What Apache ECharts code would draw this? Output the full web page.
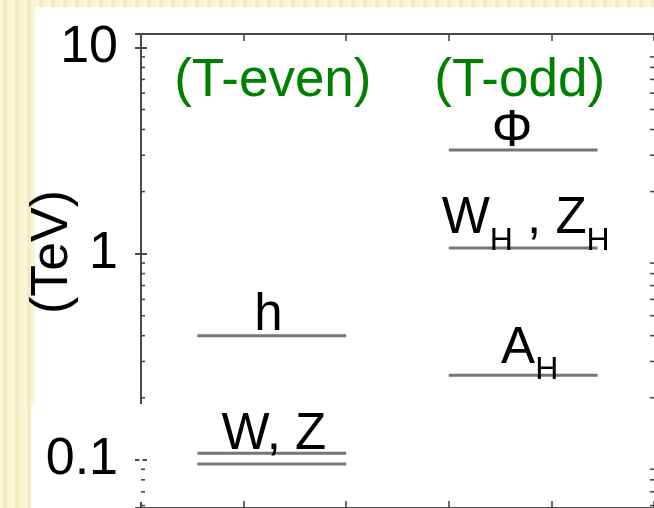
<!DOCTYPE html>
<html>
<head>
<meta charset="utf-8">
<script src="https://cdn.jsdelivr.net/npm/echarts@6/dist/echarts.min.js"></script>
<style>
  html, body { margin: 0; padding: 0; }
  body {
    width: 654px; height: 508px; overflow: hidden; position: relative;
    background-color: #f6f2cc;
    background-image: repeating-linear-gradient(90deg,
      rgba(255,255,238,0.45) 0px, rgba(255,255,238,0.45) 3px,
      rgba(226,218,168,0.25) 3px, rgba(226,218,168,0.25) 7px,
      rgba(255,252,226,0.35) 7px, rgba(255,252,226,0.35) 12px);
  }
  #panel  { position: absolute; left: 35px; top: 7px;   width: 619px; height: 501px; background: #fff; }
  #panel2 { position: absolute; left: 31px; top: 405px; width: 623px; height: 103px; background: #fff; }
  #chart  { position: absolute; left: 0; top: 0; width: 654px; height: 508px; }
</style>
</head>
<body>
<div id="panel"></div>
<div id="panel2"></div>
<div id="chart"></div>
<script>
// Mass spectrum of the two sectors, in TeV (log scale).
const groupTitles = ['(T-even)', '(T-odd)'];
const evenSpan = [0.55, 2.0];          // horizontal extent of the T-even levels
const oddSpan = [3.0, 4.45];           // horizontal extent of the T-odd levels
const evenMasses = [0.0954, 0.1075, 0.40];
const evenLabels = ['', 'W, Z', 'h'];
const oddMasses = [0.257, 1.065, 3.18];
const oddLabels = ['A_H', 'W_H , Z_H', 'Φ'];

// Axes
const xRange = [0, 5];
const yRange = [0.0584, 11.62];
const yTickValues = [0.1, 1, 10];
const yTickLabels = ['0.1', '1', '10'];
const yMinorTicks = [0.06, 0.07, 0.08, 0.09, 0.2, 0.3, 0.4, 0.5, 0.6, 0.7, 0.8, 0.9,
                     2, 3, 4, 5, 6, 7, 8, 9];

// Styling
const FONT = '"Liberation Sans", Arial, Helvetica, sans-serif';
const LABEL_SIZE = 51, SUB_SIZE = 32, SUB_DROP = 15;
const TITLE_SIZE = 53;
const MID_TO_BASE = 0.3465;            // distance from the 'middle' line to the baseline, in em
const levelColor = '#767676';
const frameColor = '#4a4a4a';
const titleColor = '#008000';
// label placement relative to the level line: [dx from segment centre, baseline dy]
const labelPlacement = {
  'W, Z': [2, -1], 'h': [-3.5, -2], 'Φ': [-11, 0],
  'W_H , Z_H': [2.5, -11], 'A_H': [6.5, -9]
};

const measureCtx = document.createElement('canvas').getContext('2d');
function textWidth(str, size) {
  measureCtx.font = size + 'px ' + FONT;
  return measureCtx.measureText(str).width;
}
// "W_H" -> [['W', false], ['H', true]]
function splitSubscripts(str) {
  const parts = [];
  let buf = '';
  for (let i = 0; i < str.length; i++) {
    if (str[i] === '_' && i + 1 < str.length) {
      if (buf) parts.push([buf, false]);
      buf = '';
      parts.push([str[i + 1], true]);
      i++;
    } else buf += str[i];
  }
  if (buf) parts.push([buf, false]);
  return parts;
}

const levelLabels = evenLabels.concat(oddLabels);
const levelRows = [];
evenMasses.forEach((m, i) => levelRows.push([evenSpan[0], evenSpan[1], m, i]));
oddMasses.forEach((m, i) => levelRows.push([oddSpan[0], oddSpan[1], m, evenLabels.length + i]));

function renderLevel(params, api) {
  const x0 = api.value(0), x1 = api.value(1), m = api.value(2), k = api.value(3);
  const p0 = api.coord([x0, m]), p1 = api.coord([x1, m]);
  const children = [{
    type: 'line',
    shape: { x1: p0[0], y1: p0[1], x2: p1[0], y2: p1[1] },
    style: { stroke: levelColor, lineWidth: 3 }
  }];
  const label = levelLabels[k];
  if (label) {
    const place = labelPlacement[label] || [0, 0];
    const parts = splitSubscripts(label);
    const total = parts.reduce((s, p) => s + textWidth(p[0], p[1] ? SUB_SIZE : LABEL_SIZE), 0);
    let x = (p0[0] + p1[0]) / 2 + place[0] - total / 2;
    const base = p0[1] + place[1];
    parts.forEach(([t, sub]) => {
      const size = sub ? SUB_SIZE : LABEL_SIZE;
      const b = sub ? base + SUB_DROP : base;
      children.push({
        type: 'text',
        style: {
          text: t, x: x, y: b - MID_TO_BASE * size,
          font: size + 'px ' + FONT, fill: '#000',
          align: 'left', verticalAlign: 'middle'
        }
      });
      x += textWidth(t, size);
    });
  }
  return { type: 'group', children: children };
}

function renderMinorTick(params, api) {
  const m = api.value(1);
  const pl = api.coord([xRange[0], m]);
  const pr = api.coord([xRange[1], m]);
  const st = { stroke: frameColor, lineWidth: 1.6 };
  return {
    type: 'group',
    children: [
      { type: 'line', shape: { x1: pl[0], y1: pl[1], x2: pl[0] + 4, y2: pl[1] }, style: st },
      { type: 'line', shape: { x1: pr[0], y1: pr[1], x2: pr[0] - 4, y2: pr[1] }, style: st }
    ]
  };
}

const chart = echarts.init(document.getElementById('chart'), null, { renderer: 'canvas' });

const xAxisBase = {
  type: 'value', min: xRange[0], max: xRange[1], interval: 1,
  axisLabel: { show: false },
  splitLine: { show: false },
  axisTick: { inside: true, length: 7, lineStyle: { color: frameColor, width: 1.6 } },
  axisLine: { show: true, lineStyle: { color: frameColor, width: 2 } }
};
const yAxisBase = {
  type: 'log', min: yRange[0], max: yRange[1], logBase: 10,
  splitLine: { show: false },
  axisTick: { inside: true, length: 6, lineStyle: { color: frameColor, width: 2 } }
};

chart.setOption({
  animation: false,
  backgroundColor: 'transparent',
  grid: { left: 141, top: 34, width: 513, height: 477, containLabel: false },
  xAxis: [
    Object.assign({}, xAxisBase, { position: 'bottom' }),
    Object.assign({}, xAxisBase, { position: 'top' })
  ],
  yAxis: [
    Object.assign({}, yAxisBase, {
      position: 'left',
      axisLine: { show: true, lineStyle: { color: frameColor, width: 2 } },
      axisLabel: {
        show: true, margin: 23, color: '#000', fontSize: 52, fontFamily: FONT,
        showMinLabel: false, showMaxLabel: false,
        formatter: function (v) {
          for (let i = 0; i < yTickValues.length; i++) {
            if (Math.abs(Math.log10(v) - Math.log10(yTickValues[i])) < 1e-6) return yTickLabels[i];
          }
          return '';
        }
      }
    }),
    Object.assign({}, yAxisBase, {
      position: 'right',
      axisLine: { show: false },
      axisLabel: { show: false }
    })
  ],
  series: [
    {
      type: 'custom', name: 'minor ticks', xAxisIndex: 0, yAxisIndex: 0,
      renderItem: renderMinorTick, silent: true, z: 3,
      encode: { x: 0, y: 1 },
      data: yMinorTicks.map(v => [xRange[0], v])
    },
    {
      type: 'custom', name: 'levels', xAxisIndex: 0, yAxisIndex: 0,
      renderItem: renderLevel, silent: true, z: 4,
      encode: { x: [0, 1], y: 2 },
      data: levelRows
    }
  ]
});

// Group titles, centred over each column, plus the unit label.
const evenCentre = chart.convertToPixel({ xAxisIndex: 0 }, (evenSpan[0] + evenSpan[1]) / 2);
const oddCentre = chart.convertToPixel({ xAxisIndex: 0 }, (oddSpan[0] + oddSpan[1]) / 2);
chart.setOption({
  graphic: [
    {
      type: 'text', x: evenCentre + 1, y: 100 - MID_TO_BASE * TITLE_SIZE, z: 10,
      style: { text: groupTitles[0], font: TITLE_SIZE + 'px ' + FONT, fill: titleColor, align: 'center', verticalAlign: 'middle' }
    },
    {
      type: 'text', x: oddCentre - 3.5, y: 100 - MID_TO_BASE * TITLE_SIZE, z: 10,
      style: { text: groupTitles[1], font: TITLE_SIZE + 'px ' + FONT, fill: titleColor, align: 'center', verticalAlign: 'middle' }
    },
    {
      type: 'text', x: 53, y: 252, rotation: Math.PI / 2, z: 10,
      style: { text: '(TeV)', font: '52px ' + FONT, fill: '#000', align: 'center', verticalAlign: 'middle' }
    },
    {
      // broken stretch of the left frame line along the lower strip
      type: 'rect', z: 1, silent: true,
      shape: { x: 139.5, y: 404, width: 3, height: 98 },
      style: { fill: '#fff' }
    }
  ]
});
</script>
</body>
</html>
